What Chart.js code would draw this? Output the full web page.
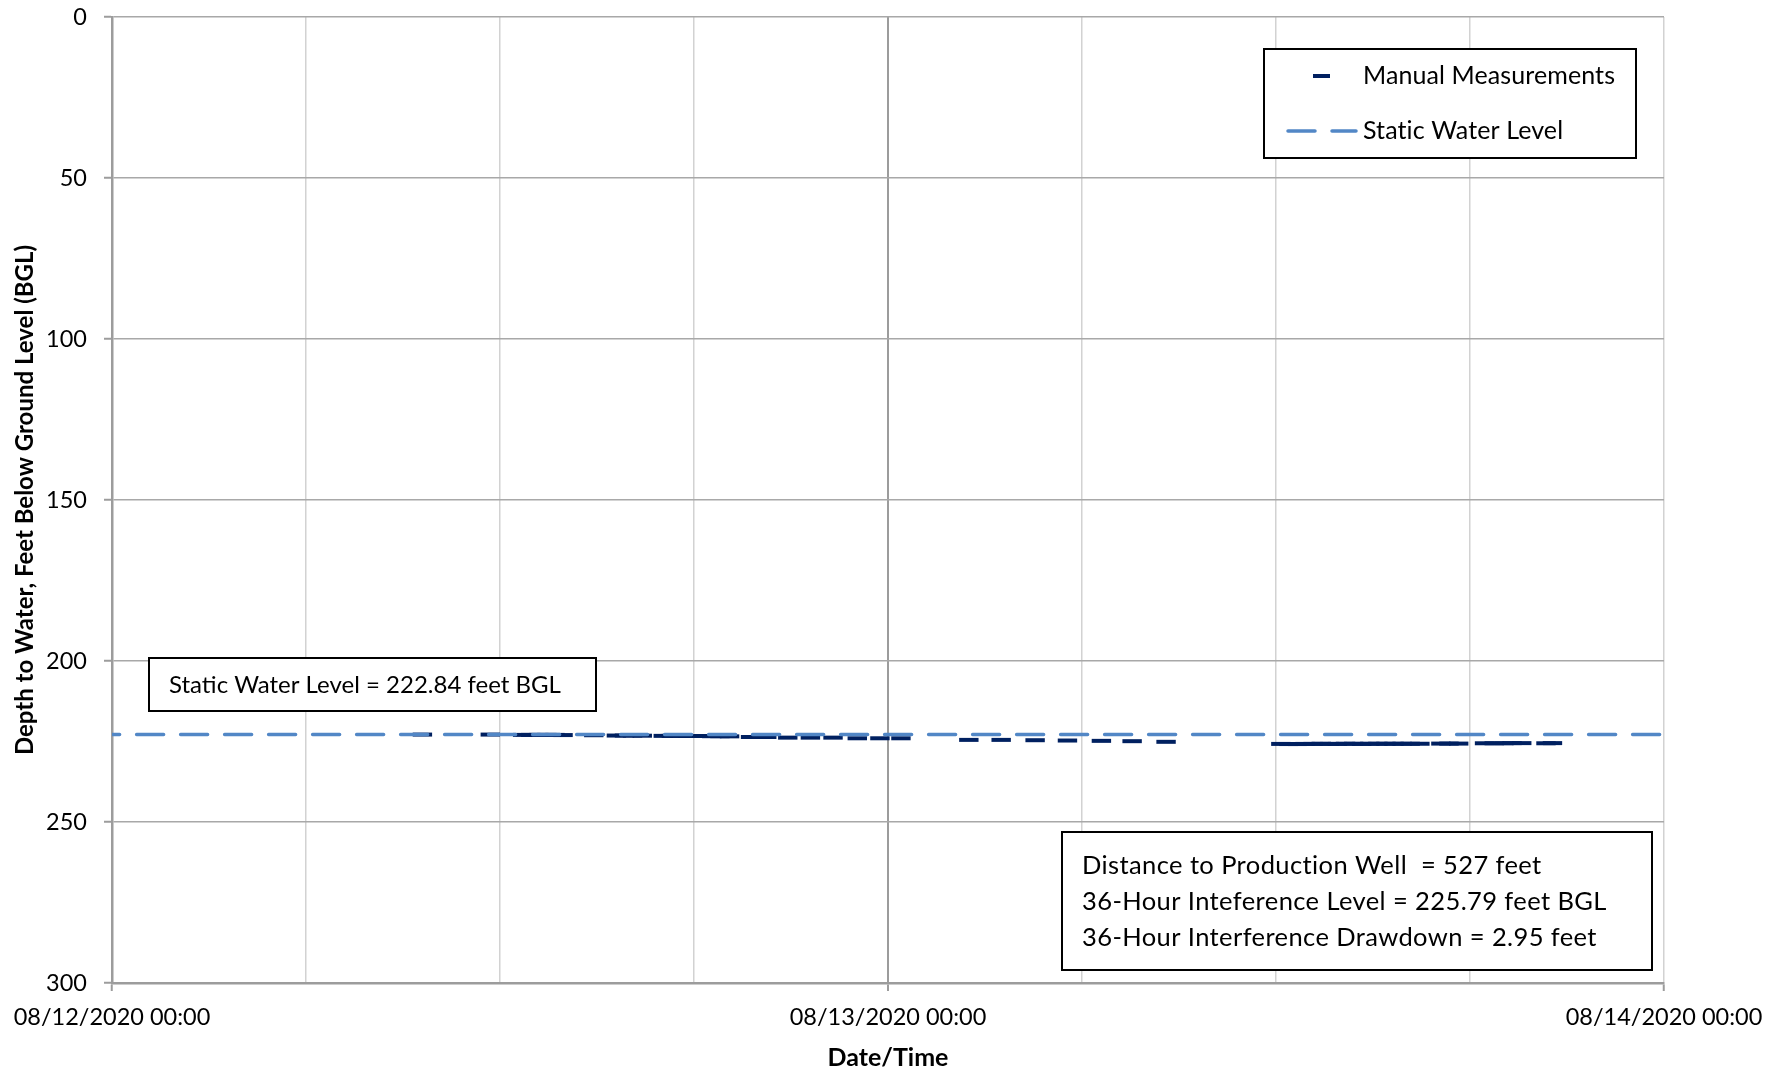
<!DOCTYPE html>
<html>
<head>
<meta charset="utf-8">
<title>Depth to Water</title>
<script src="https://cdn.jsdelivr.net/npm/chart.js@4.4.1/dist/chart.umd.min.js"></script>
<style>
  html, body { margin: 0; padding: 0; background: #ffffff; }
  #wrap { width: 1778px; height: 1073px; position: relative; }
</style>
</head>
<body>
<div id="wrap"><canvas id="chart" width="1778" height="1073"></canvas></div>
<script>
// Hours after 08/12/2020 00:00 and measured depth to water (feet BGL)
const manualHours = [
  9.6, 11.7, 12.7, 12.95, 13.2, 13.45, 13.7, 13.95, 14.9, 15.6, 15.85, 16.1, 16.4,
  17.05, 17.3, 17.55, 17.8, 18.05, 18.3, 18.55, 18.8, 19.1, 19.75, 20.0, 20.25,
  20.9, 21.6, 22.3, 23.05, 23.75, 24.4,
  26.5, 27.5, 28.55, 29.55, 30.6, 31.55, 32.6,
  36.15, 36.4, 36.65, 36.9, 37.15, 37.4, 37.65, 37.9, 38.15, 38.4, 38.65, 38.9,
  39.15, 39.4, 39.65, 39.9, 40.15, 40.45, 41.1, 41.35, 41.65, 42.45, 42.75, 43.05,
  43.3, 43.6, 44.35, 44.55
];
const manualDepths = [
  222.85, 222.85, 222.95, 222.95, 222.95, 222.95, 222.95, 223.0, 223.05, 223.15, 223.15, 223.15, 223.2,
  223.25, 223.25, 223.25, 223.3, 223.3, 223.3, 223.35, 223.35, 223.4, 223.6, 223.6, 223.6,
  223.8, 223.8, 223.8, 224.0, 224.0, 224.0,
  224.5, 224.5, 224.6, 224.7, 224.8, 224.9, 225.1,
  225.75, 225.79, 225.79, 225.75, 225.75, 225.7, 225.75, 225.75, 225.7, 225.7, 225.75, 225.7,
  225.7, 225.7, 225.7, 225.7, 225.7, 225.7, 225.65, 225.65, 225.65, 225.55, 225.55, 225.55,
  225.5, 225.5, 225.55, 225.5
];
const staticHours = [0, 48];
const staticDepths = [222.84, 222.84];

const dateTickHours = [0, 24, 48];
const dateTickLabels = ['08/12/2020 00:00', '08/13/2020 00:00', '08/14/2020 00:00'];
const depthMin = 0;
const depthMax = 300;
const depthStep = 50;
const hourStep = 6;

const seriesNames = ['Manual Measurements', 'Static Water Level'];
const axisTitles = { x: 'Date/Time', y: 'Depth to Water, Feet Below Ground Level (BGL)' };
const staticNote = 'Static Water Level = 222.84 feet BGL';
const wellNotes = [
  'Distance to Production Well  = 527 feet',
  '36-Hour Inteference Level = 225.79 feet BGL',
  '36-Hour Interference Drawdown = 2.95 feet'
];

const FONT = 'Lato';
const TICK_SIZE = 23.5;
const NAVY = '#002060';
const STEEL = '#5287c6';

function toPoints(xs, ys) {
  return xs.map((x, i) => ({ x: x, y: ys[i] }));
}

// Boxed legend and text notes drawn over the plot
const notesPlugin = {
  id: 'notes',
  afterDraw(chart) {
    const ctx = chart.ctx;
    const manual = chart.data.datasets[1];
    const stat = chart.data.datasets[0];
    ctx.save();

    function frame(x, y, w, h) {
      ctx.fillStyle = '#ffffff';
      ctx.fillRect(x, y, w, h);
      ctx.lineWidth = 2;
      ctx.strokeStyle = '#000000';
      ctx.strokeRect(x, y, w, h);
    }
    function text(str, x, y, size, spacing) {
      ctx.fillStyle = '#000000';
      ctx.font = size + 'px ' + FONT;
      if ('letterSpacing' in ctx) ctx.letterSpacing = (spacing || 0) + 'px';
      ctx.textAlign = 'left';
      ctx.textBaseline = 'middle';
      ctx.fillText(str, x, y);
      if ('letterSpacing' in ctx) ctx.letterSpacing = '0px';
    }

    // legend
    frame(1264, 49, 372, 109);
    ctx.strokeStyle = manual.pointBorderColor;
    ctx.lineWidth = manual.pointBorderWidth;
    ctx.lineCap = 'butt';
    ctx.beginPath();
    ctx.moveTo(1313, 76);
    ctx.lineTo(1330, 76);
    ctx.stroke();
    text(seriesNames[0], 1363, 76, 25, 0.1);

    ctx.save();
    ctx.beginPath();
    ctx.rect(1280, 110, 78, 40);
    ctx.clip();
    ctx.strokeStyle = stat.borderColor;
    ctx.lineWidth = stat.borderWidth;
    ctx.lineCap = 'round';
    ctx.setLineDash(stat.borderDash);
    ctx.beginPath();
    ctx.moveTo(1288, 131);
    ctx.lineTo(1356, 131);
    ctx.stroke();
    ctx.restore();
    text(seriesNames[1], 1363, 131, 25, 0.1);

    // static level note
    frame(149, 658, 447, 53);
    text(staticNote, 169, 685, 24, 0);

    // production well notes
    frame(1062, 832, 590, 138);
    const rows = [866, 902, 938];
    wellNotes.forEach((s, i) => text(s, 1082, rows[i], 25.5, 0.4));

    ctx.restore();
  }
};

function build() {
  new Chart(document.getElementById('chart'), {
    type: 'scatter',
    data: {
      datasets: [
        {
          label: seriesNames[1],
          data: toPoints(staticHours, staticDepths),
          showLine: true,
          borderColor: STEEL,
          borderWidth: 3.5,
          borderDash: [27, 17],
          borderDashOffset: 19.4,
          borderCapStyle: 'round',
          pointRadius: 0,
          order: 0
        },
        {
          label: seriesNames[0],
          data: toPoints(manualHours, manualDepths),
          showLine: false,
          pointStyle: 'line',
          pointRadius: 9.7,
          pointBorderWidth: 4,
          pointBorderColor: NAVY,
          pointBackgroundColor: NAVY,
          order: 1
        }
      ]
    },
    options: {
      responsive: false,
      animation: false,
      devicePixelRatio: 1,
      layout: { padding: { top: 17, right: 114, bottom: 0, left: 0 } },
      plugins: {
        legend: { display: false },
        tooltip: { enabled: false }
      },
      scales: {
        x: {
          type: 'linear',
          min: 0,
          max: 48,
          afterFit(scale) { scale.height = 90; },
          afterBuildTicks(scale) {
            const t = [];
            for (let h = 0; h <= 48; h += hourStep) t.push({ value: h });
            scale.ticks = t;
          },
          ticks: {
            autoSkip: false,
            maxRotation: 0,
            padding: 12,
            color: '#000000',
            font: { family: FONT, size: TICK_SIZE },
            callback(v) {
              const i = dateTickHours.indexOf(v);
              return i >= 0 ? dateTickLabels[i] : '';
            }
          },
          grid: {
            drawTicks: true,
            tickLength: 8,
            color(c) { return c.tick && c.tick.value === 24 ? '#9c9c9c' : '#d2d2d2'; },
            lineWidth(c) { return c.tick && c.tick.value === 24 ? 2 : 1.5; },
            tickColor(c) { return c.tick && dateTickHours.includes(c.tick.value) ? '#9c9c9c' : 'rgba(0,0,0,0)'; },
            tickWidth: 2
          },
          border: { color: '#9c9c9c', width: 2.5 },
          title: {
            display: true,
            text: axisTitles.x,
            color: '#000000',
            font: { family: FONT, size: 25, weight: 'bold' },
            padding: { top: 0, bottom: 0 }
          }
        },
        y: {
          type: 'linear',
          reverse: true,
          min: depthMin,
          max: depthMax,
          afterFit(scale) {
            scale.width = 112;
            scale.paddingTop = 0;
            scale.paddingBottom = 0;
          },
          ticks: {
            stepSize: depthStep,
            padding: 17,
            color: '#000000',
            font: { family: FONT, size: TICK_SIZE }
          },
          grid: {
            drawTicks: true,
            tickLength: 8,
            color: '#a8a8a8',
            lineWidth: 1.5,
            tickColor: '#9c9c9c',
            tickWidth: 2
          },
          border: { color: '#9c9c9c', width: 2.5 },
          title: {
            display: true,
            text: axisTitles.y,
            color: '#000000',
            font: { family: FONT, size: 24, weight: 'bold' },
            padding: { top: 10.5, bottom: 0 }
          }
        }
      }
    },
    plugins: [notesPlugin]
  });
}

if (document.fonts && document.fonts.load) {
  Promise.all([
    document.fonts.load(TICK_SIZE + 'px ' + FONT),
    document.fonts.load('bold 25px ' + FONT)
  ]).then(build, build);
} else {
  build();
}
</script>
</body>
</html>
